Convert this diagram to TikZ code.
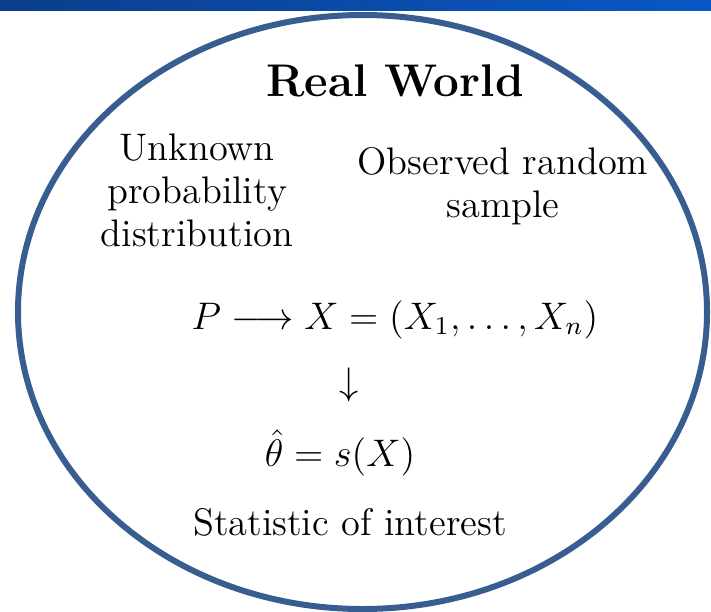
\documentclass[tikz,border=0pt]{standalone}
\usetikzlibrary{shapes.geometric}
\definecolor{ringblue}{HTML}{385D91}
\definecolor{barL}{HTML}{0B3E8C}
\definecolor{barR}{HTML}{0A58C6}
\tikzset{
  txt/.style={font=\fontsize{12}{13.4}\selectfont, align=center, inner sep=0pt, scale=3.2, transform shape},
  ttl/.style={font=\fontsize{14.4}{17}\selectfont\bfseries, inner sep=0pt, scale=3.18, transform shape},
}
\begin{document}
\begin{tikzpicture}[x=1pt,y=-1pt]
\useasboundingbox (0,0) rectangle (711,611);
\fill[white] (0,0) rectangle (711,611);
\shade[left color=barL, right color=barR] (0,0) rectangle (711,10);
\node[draw=ringblue, line width=6pt, ellipse, minimum width=689pt, minimum height=594pt, inner sep=0pt] (world) at (362.5,312) {};
\node[ttl] (title) at (395,81) {Real World};
\node[txt] (unk) at (197,190) {Unknown\\probability\\distribution};
\node[txt] (obs) at (503,186) {Observed random\\sample};
\node[txt, anchor=base] (eq) at (395,329) {$P \longrightarrow X = (X_1,\ldots,X_n)$};
\node[txt] (arr) at (349,385) {$\downarrow$};
\node[txt] (est) at (340,453) {$\hat\theta = s(X)$};
\node[txt] (stat) at (350,522) {Statistic of interest};
\end{tikzpicture}
\end{document}
